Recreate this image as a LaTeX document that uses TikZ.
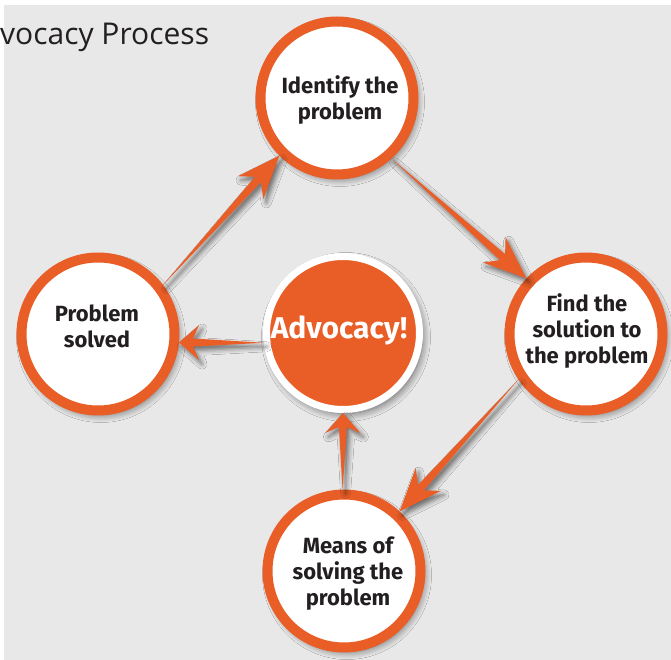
\documentclass[tikz,border=0pt]{standalone}
\usepackage{fontspec}
\setmainfont{Fira Sans}
\newfontfamily\titlefont{Open Sans}
\usetikzlibrary{calc,shadows.blur}

\definecolor{advorange}{RGB}{233,93,38}
\definecolor{panelgray}{RGB}{232,232,232}
\definecolor{inkdark}{RGB}{35,31,32}

% Tapered arrow: a point at the tail widening to a barbed head.
% #1 tail, #2 tip, #3/#4 barb distance/angle, #5/#6 notch distance/angle
\newcommand\taperarrow[6]{%
  \fill[arrowbody] (#1) -- ($(#2)!#5!#6:(#1)$) -- ($(#2)!#3!#4:(#1)$) -- (#2)
    -- ($(#2)!#3!-#4:(#1)$) -- ($(#2)!#5!-#6:(#1)$) -- cycle;}

\tikzset{
  softshadow/.style={blur shadow={shadow xshift=3pt, shadow yshift=-4pt,
      shadow blur radius=8pt, shadow opacity=60, shadow blur steps=12}},
  stage/.style={circle, draw=advorange, line width=10pt, fill=white,
      minimum size=153pt, inner sep=0pt, softshadow},
  core/.style={circle, draw=white, line width=7pt, fill=advorange,
      minimum size=153pt, inner sep=0pt, softshadow},
  stagetext/.style={align=center, inner sep=0pt, text=inkdark,
      font=\bfseries\fontsize{22}{26}\selectfont},
  arrowbody/.style={fill=advorange, blur shadow={shadow xshift=3pt,
      shadow yshift=-4pt, shadow blur radius=5pt, shadow opacity=55}},
}

\begin{document}
\begin{tikzpicture}[x=1pt, y=-1pt]
  \useasboundingbox (0,0) rectangle (671,660);
  \fill[white] (0,0) rectangle (671,660);
  \fill[panelgray] (4,5) rectangle (671,660);

  \node[anchor=base west, inner sep=0pt, text=inkdark,
        font=\titlefont\fontsize{30}{32}\selectfont] (title) at (0,45) {vocacy Process};

  % the four stages and the centre
  \node[stage] (id)    at (337,98)  {};
  \node[stage] (find)  at (586,334) {};
  \node[stage] (ps)    at (98,334)  {};
  \node[stage] (means) at (344,571) {};
  \node[core]  (adv)   at (343,333) {};

  \node[stagetext] (idtxt)    at (340,100) {Identify the\\problem};
  \node[stagetext] (findtxt)  at (587,331) {Find the\\solution to\\the problem};
  \node[stagetext] (pstxt)    at (97,326)  {Problem\\solved};
  \node[stagetext] (meanstxt) at (348,574) {Means of\\solving the\\problem};
  \node[inner sep=0pt, text=white, font=\bfseries\fontsize{30}{32}\selectfont]
       (advtxt) at (339,330) {Advocacy!};

  % cycle arrows
  \taperarrow{ps.37}{id.225}{46.2pt}{21.6}{32.3pt}{7.1}
  \taperarrow{id.312}{find.137}{46.2pt}{21.6}{32.3pt}{7.1}
  \taperarrow{find.214}{means.47}{46.2pt}{21.6}{32.3pt}{7.1}
  % short arrows out of the centre
  \taperarrow{adv.187}{ps.-6}{26.6pt}{41.2}{14.6pt}{16}
  \taperarrow{means.91}{adv.270}{26.6pt}{41.2}{14.6pt}{16}
\end{tikzpicture}
\end{document}
